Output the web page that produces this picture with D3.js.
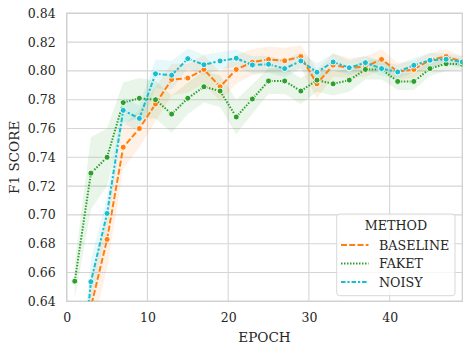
<!DOCTYPE html>
<html><head><meta charset="utf-8">
<script src="https://cdn.jsdelivr.net/npm/d3@7/dist/d3.min.js"></script>
<style>body{margin:0;background:#fff}svg{display:block}text{font-family:"DejaVu Serif",serif;fill:#262626}</style>
</head><body><svg id="c" width="470" height="353"></svg>
<script>
const epochs = [1,3,5,7,9,11,13,15,17,19,21,23,25,27,29,31,33,35,37,39,41,43,45,47,49];
const methods = ["BASELINE","FAKET","NOISY"];
const baseline = [0.530,0.636,0.683,0.747,0.760,0.777,0.794,0.795,0.801,0.789,0.801,0.806,0.808,0.807,0.810,0.791,0.804,0.802,0.803,0.808,0.7995,0.801,0.8076,0.810,0.8064];
const faket    = [0.654,0.729,0.740,0.778,0.781,0.780,0.770,0.781,0.789,0.786,0.768,0.7805,0.793,0.793,0.786,0.7936,0.791,0.7936,0.801,0.801,0.7927,0.7927,0.8016,0.805,0.8046];
const noisy    = [0.540,0.6536,0.701,0.7726,0.767,0.798,0.797,0.8085,0.8043,0.8069,0.8088,0.8041,0.8046,0.8016,0.8069,0.7991,0.8062,0.8022,0.8057,0.8016,0.7993,0.8039,0.8074,0.8081,0.8062];
const baselineErr = [0.02,0.02,0.02,0.015,0.013,0.012,0.011,0.010,0.010,0.010,0.010,0.009,0.009,0.009,0.008,0.010,0.008,0.007,0.007,0.007,0.006,0.006,0.005,0.005,0.004];
const faketErr    = [0.012,0.025,0.020,0.014,0.014,0.013,0.013,0.011,0.011,0.011,0.012,0.010,0.009,0.009,0.009,0.008,0.008,0.008,0.007,0.007,0.006,0.006,0.005,0.005,0.004];
const noisyErr    = [0.02,0.015,0.012,0.009,0.009,0.010,0.010,0.007,0.007,0.006,0.006,0.006,0.006,0.006,0.006,0.006,0.006,0.005,0.005,0.005,0.005,0.005,0.005,0.004,0.004];
const xTicks = [0,10,20,30,40];
const yTicks = [0.64,0.66,0.68,0.70,0.72,0.74,0.76,0.78,0.80,0.82,0.84];
const colors = ["#ff7f0e","#2ca02c","#17becf"];
const dashes = ["6,2.25","1.5,1.5","4.5,1.9,2.25,1.9"];

const series = [
  {name:methods[0], vals:baseline, err:baselineErr, color:colors[0], dash:dashes[0]},
  {name:methods[1], vals:faket, err:faketErr, color:colors[1], dash:dashes[1]},
  {name:methods[2], vals:noisy, err:noisyErr, color:colors[2], dash:dashes[2]},
];

const L=66.7, R=462.3, T=13.3, B=301.3;
const svg = d3.select("#c");
const x = d3.scaleLinear().domain([0,49]).range([L,R]);
const y = d3.scaleLinear().domain([0.64,0.84]).range([B,T]);

// grid
const g = svg.append("g");
g.selectAll(".gx").data(xTicks).join("line").attr("x1",d=>x(d)).attr("x2",d=>x(d)).attr("y1",T).attr("y2",B).attr("stroke","#d5d5d5").attr("stroke-width",1.1);
g.selectAll(".gy").data(yTicks).join("line").attr("y1",d=>y(d)).attr("y2",d=>y(d)).attr("x1",L).attr("x2",R).attr("stroke","#d5d5d5").attr("stroke-width",1.1);
svg.append("rect").attr("x",L).attr("y",T).attr("width",R-L).attr("height",B-T).attr("fill","none").attr("stroke","#d0d0d0").attr("stroke-width",1.3);

// axes (labels only)
const xa = d3.axisBottom(x).tickValues(xTicks).tickSize(0).tickPadding(12).tickFormat(d3.format("d"));
svg.append("g").attr("transform",`translate(0,${B})`).call(xa).call(s=>s.select(".domain").remove())
  .selectAll("text").style("font-family","DejaVu Serif").style("font-size","12.5px").attr("fill","#262626");
const ya = d3.axisLeft(y).tickValues(yTicks).tickSize(0).tickPadding(11).tickFormat(d3.format(".2f"));
svg.append("g").attr("transform",`translate(${L},0)`).call(ya).call(s=>s.select(".domain").remove())
  .selectAll("text").style("font-family","DejaVu Serif").style("font-size","12.5px").attr("fill","#262626");

svg.append("text").attr("x",(L+R)/2).attr("y",341.5).attr("text-anchor","middle").style("font-size","13.6px").text("EPOCH");
svg.append("text").attr("transform",`translate(19,${(T+B)/2}) rotate(-90)`).attr("text-anchor","middle").style("font-size","13.6px").text("F1 SCORE");

// clip
svg.append("clipPath").attr("id","cp").append("rect").attr("x",L).attr("y",T).attr("width",R-L).attr("height",B-T);
const plot = svg.append("g").attr("clip-path","url(#cp)");

series.forEach(s=>{
  const pts = epochs.map((e,i)=>({e, v:s.vals[i], lo:s.vals[i]-s.err[i], hi:s.vals[i]+s.err[i]}));
  plot.append("path").datum(pts).attr("fill",s.color).attr("fill-opacity",0.11)
    .attr("d",d3.area().x(d=>x(d.e)).y0(d=>y(d.lo)).y1(d=>y(d.hi)));
});
series.forEach(s=>{
  const pts = epochs.map((e,i)=>({e, v:s.vals[i]}));
  plot.append("path").datum(pts).attr("fill","none").attr("stroke",s.color).attr("stroke-width",2)
    .attr("stroke-dasharray",s.dash).attr("d",d3.line().x(d=>x(d.e)).y(d=>y(d.v)));
  plot.selectAll(null).data(pts).join("circle").attr("cx",d=>x(d.e)).attr("cy",d=>y(d.v)).attr("r",3)
    .attr("fill",s.color).attr("stroke","#fff").attr("stroke-width",0.9);
});

// legend
const lg = svg.append("g");
lg.append("rect").attr("x",336.7).attr("y",214).attr("width",118.3).attr("height",81.7).attr("rx",3)
  .attr("fill","#fff").attr("fill-opacity",0.8).attr("stroke","#d8d8d8").attr("stroke-width",1);
lg.append("text").attr("x",396).attr("y",229.5).attr("text-anchor","middle").style("font-size","12.7px").text("METHOD");
series.forEach((s,i)=>{
  const yy = 245 + i*18.5;
  lg.append("line").attr("x1",341).attr("x2",368.5).attr("y1",yy).attr("y2",yy).attr("stroke",s.color)
    .attr("stroke-width",2).attr("stroke-dasharray",s.dash);
  lg.append("text").attr("x",379).attr("y",yy+4.5).style("font-size","12.7px").text(s.name);
});
</script></body></html>
